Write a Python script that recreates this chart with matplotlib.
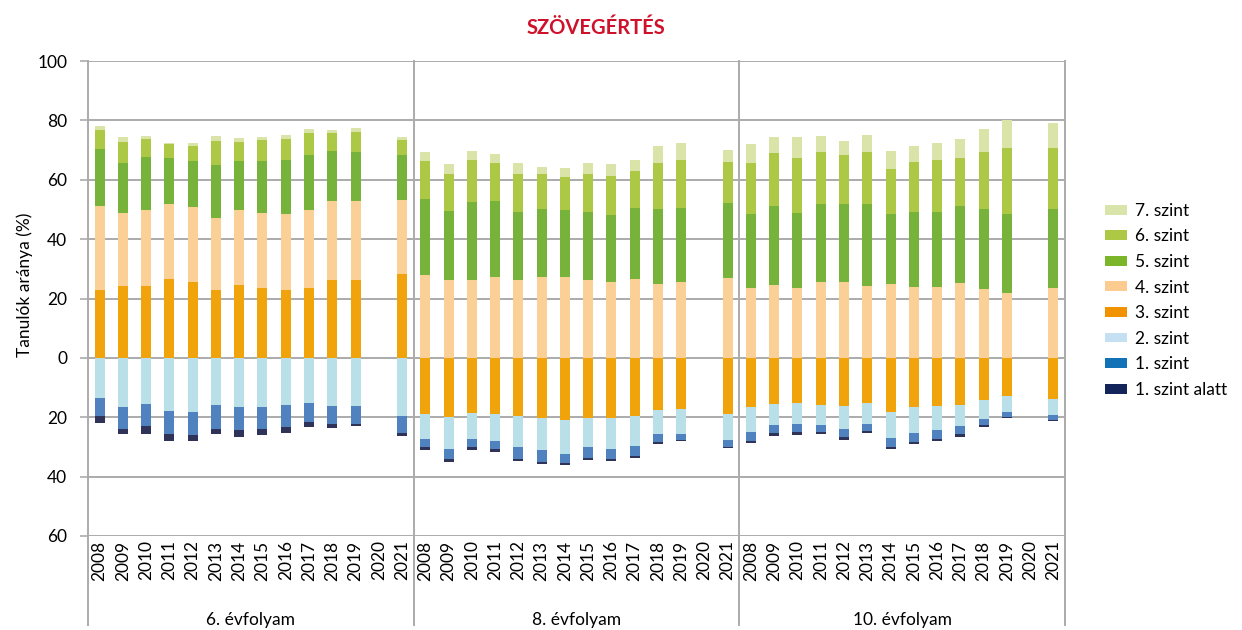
import numpy as np
import matplotlib
matplotlib.use("Agg")
import matplotlib.pyplot as plt
from matplotlib.patches import Patch

plt.rcParams['font.family'] = ['Lato', 'DejaVu Sans']

title = "SZÖVEGÉRTÉS"
ylabel = "Tanulók aránya (%)"
years = ["2008", "2009", "2010", "2011", "2012", "2013", "2014",
         "2015", "2016", "2017", "2018", "2019", "2020", "2021"]
grades = ["6. évfolyam", "8. évfolyam", "10. évfolyam"]
level_names = ["1. szint alatt", "1. szint", "2. szint", "3. szint",
               "4. szint", "5. szint", "6. szint", "7. szint"]
# index of the first level drawn above zero, per grade
first_positive_level = [3, 4, 4]

N = None
# values per level: 6. évf (14 years), 8. évf (14), 10. évf (14); 2020 missing
lvl_below = [2.5, 2.0, 2.4, 2.4, 2.0, 1.8, 2.3, 2.2, 2.0, 1.6, 1.2, 0.7, N, 1.0,
             1.0, 1.0, 1.0, 0.9, 0.8, 0.8, 0.8, 0.7, 0.8, 0.7, 0.7, 0.3, N, 0.3,
             0.7, 1.1, 1.0, 0.7, 1.0, 0.6, 0.6, 0.7, 0.6, 1.0, 0.7, 0.4, N, 0.4]
lvl_1 = [6.0, 7.2, 7.4, 7.7, 7.8, 7.8, 7.6, 7.4, 7.5, 6.5, 6.3, 5.9, N, 5.6,
         2.7, 3.3, 2.7, 2.7, 3.9, 3.9, 3.0, 3.7, 3.3, 3.4, 2.7, 2.0, N, 2.4,
         3.0, 2.7, 2.7, 2.4, 2.7, 2.4, 3.1, 3.1, 3.1, 2.7, 2.0, 1.7, N, 1.6]
lvl_2 = [13.6, 16.6, 15.7, 17.9, 18.2, 16.0, 16.7, 16.4, 15.8, 15.2, 16.1, 16.3, N, 19.7,
         8.4, 10.8, 8.8, 9.1, 10.5, 10.8, 11.3, 9.8, 10.4, 10.1, 8.2, 8.5, N, 8.8,
         8.4, 7.1, 7.2, 6.7, 7.8, 7.2, 8.8, 8.7, 8.1, 7.1, 6.4, 5.4, N, 5.5]
lvl_3 = [22.9, 24.3, 24.2, 26.6, 25.7, 23.0, 24.7, 23.7, 23.0, 23.7, 26.1, 26.1, N, 28.3,
         18.9, 19.9, 18.6, 18.9, 19.6, 20.3, 21.0, 20.3, 20.3, 19.6, 17.5, 17.2, N, 18.9,
         16.6, 15.5, 15.1, 15.9, 16.2, 15.1, 18.2, 16.6, 16.2, 15.9, 14.2, 12.8, N, 13.8]
lvl_4 = [28.2, 24.6, 25.7, 25.3, 25.0, 24.1, 25.2, 25.0, 25.3, 26.0, 26.9, 26.6, N, 25.0,
         27.9, 26.4, 26.4, 27.4, 26.2, 27.1, 27.1, 26.3, 25.6, 26.6, 24.9, 25.4, N, 27.0,
         23.7, 24.7, 23.4, 25.5, 25.7, 24.3, 24.9, 23.9, 23.8, 25.1, 23.1, 21.7, N, 23.4]
lvl_5 = [19.1, 16.6, 17.9, 15.3, 15.5, 18.0, 16.5, 17.5, 18.2, 18.5, 16.7, 16.7, N, 15.0,
         25.5, 23.2, 26.0, 25.3, 23.1, 23.2, 22.6, 22.9, 22.6, 24.0, 25.3, 25.2, N, 25.2,
         24.7, 26.6, 25.5, 26.5, 26.3, 27.4, 23.4, 25.4, 25.2, 25.9, 26.9, 26.6, N, 26.9]
lvl_6 = [6.7, 7.3, 5.9, 4.7, 5.3, 8.0, 6.4, 7.1, 7.2, 7.4, 5.9, 6.6, N, 5.1,
         12.8, 12.2, 14.1, 12.8, 12.8, 11.5, 11.1, 12.8, 13.1, 12.4, 15.5, 16.1, N, 13.9,
         17.4, 17.6, 18.4, 17.2, 16.5, 17.5, 15.2, 16.8, 17.6, 16.2, 19.2, 22.3, N, 20.4]
lvl_7 = [1.2, 1.6, 0.9, 0.5, 1.0, 1.7, 1.1, 1.1, 1.5, 1.6, 1.3, 1.6, N, 1.0,
         3.2, 3.4, 3.1, 3.3, 3.6, 2.6, 3.2, 3.6, 3.9, 3.6, 5.6, 5.7, N, 3.9,
         6.2, 5.5, 7.1, 5.7, 4.4, 6.0, 6.3, 5.2, 5.9, 6.5, 7.9, 9.6, N, 8.5]

bar_colors = ["#2f3358", "#4f82bf", "#b9dfe9", "#f0a30a",
              "#fad096", "#77b33a", "#adc844", "#dae4a9"]
legend_colors = ["#13245a", "#1172b8", "#c6e0f3", "#f39200",
                 "#fbcb8f", "#7ab52a", "#adc844", "#d8e4aa"]
grid_color = "#ababab"

vals = np.array([lvl_below, lvl_1, lvl_2, lvl_3, lvl_4, lvl_5, lvl_6, lvl_7], dtype=float)
n_years = len(years)
n_cat = n_years * len(grades)
x = np.arange(n_cat)

# stacking bottoms
bottoms = np.zeros_like(vals)
for c in range(n_cat):
    k = first_positive_level[c // n_years]
    for j in range(vals.shape[0]):
        if j >= k:
            bottoms[j, c] = np.nansum(vals[k:j, c])
        else:
            bottoms[j, c] = -np.nansum(vals[j:k, c])

W, H = 1242, 630
fig = plt.figure(figsize=(W / 100, H / 100), dpi=100)
left, right, top, bottom = 88, 1065, 61, 536
ax = fig.add_axes([left / W, 1 - bottom / H, (right - left) / W, (bottom - top) / H])

for j in range(vals.shape[0]):
    ax.bar(x, vals[j], bottom=bottoms[j], width=0.43, color=bar_colors[j],
           edgecolor="none", zorder=3)

ax.set_xlim(-0.5, n_cat - 0.5)
ax.set_ylim(-60, 100)
yt = np.arange(-60, 101, 20)
ax.set_yticks(yt)
ax.set_yticklabels([str(abs(v)) for v in yt], fontsize=12.5)
ax.tick_params(axis='y', length=6, width=1.2, color=grid_color, pad=9)
ax.set_xticks([])
for s in ax.spines.values():
    s.set_visible(False)
for v in yt:
    ax.axhline(v, color=grid_color, lw=1.4, zorder=1)

# vertical separators (extend below into category labels)
ext = -(625 - bottom) / (bottom - top)
for xv in [-0.5, 13.5, 27.5, n_cat - 0.5]:
    ax.axvline(xv, ymin=ext, ymax=1, color=grid_color, lw=1.4, clip_on=False, zorder=2)

# year labels
for c in range(n_cat):
    ax.text(x[c], -61.5, years[c % n_years], rotation=90, ha='center', va='top',
            fontsize=12.5, color='black')
# grade labels
for g, name in enumerate(grades):
    xc = g * n_years + (n_years - 1) / 2
    ax.annotate(name, xy=(xc, 0), xycoords=('data', 'figure pixels'),
                xytext=(0, 10), textcoords='offset pixels', ha='center', va='center',
                fontsize=12.5)

fig.text(596 / W, 1 - 28 / H, title, ha='center', va='center', fontsize=14.5,
         fontweight='bold', color="#d0112b")
fig.text(25 / W, 1 - 285 / H, ylabel, rotation=90, ha='center', va='center',
         fontsize=12.5)

handles = [Patch(facecolor=legend_colors[j], edgecolor='none', label=level_names[j])
           for j in range(len(level_names) - 1, -1, -1)]
fig.legend(handles=handles, loc='upper left', bbox_to_anchor=(1098 / W, 1 - 196 / H),
           frameon=False, fontsize=12.5, handlelength=1.25, handleheight=0.5,
           labelspacing=0.55, handletextpad=0.5, borderaxespad=0)

fig.savefig("out.png", dpi=100)
